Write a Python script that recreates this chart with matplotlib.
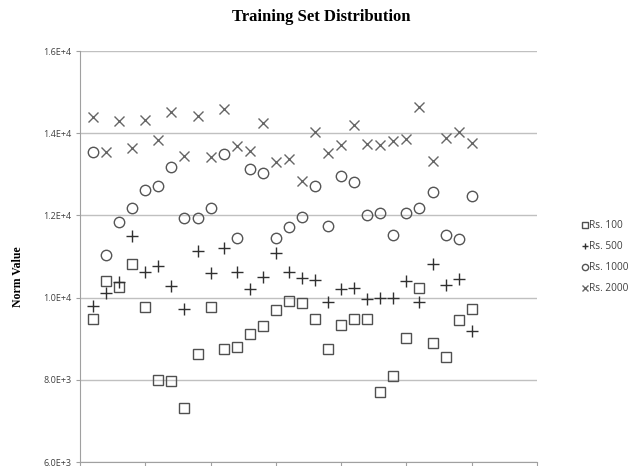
import matplotlib
matplotlib.use("Agg")
import matplotlib.pyplot as plt
from matplotlib.ticker import FuncFormatter, MultipleLocator

x = list(range(1, 31))
rs100 = [9484, 10412, 10252, 10816, 9782, 8007, 7959, 7313, 8625, 9782,
         8749, 8788, 9103, 9297, 9694, 9927, 9879, 9484, 8749, 9333,
         9484, 9484, 7703, 8091, 9006, 10228, 8885, 8560, 9460, 9718]
rs500 = [9800, 10107, 10373, 11503, 10630, 10768, 10284, 9718, 11132, 10590,
         11212, 10615, 10203, 10509, 11076, 10630, 10485, 10429, 9903, 10203,
         10242, 9968, 9985, 10000, 10405, 9903, 10806, 10307, 10445, 9193]
rs1000 = [13540, 11035, 11847, 12170, 12623, 12727, 13185, 11927, 11937, 12180,
          13491, 11440, 13137, 13040, 11440, 11709, 11964, 12715, 11745, 12970,
          12810, 12000, 12050, 11520, 12068, 12185, 12570, 11520, 11416, 12480]
rs2000 = [14405, 13540, 14290, 13650, 14325, 13823, 14524, 13455, 14430, 13430,
          14580, 13680, 13565, 14240, 13307, 13370, 12837, 14040, 13515, 13719,
          14203, 13743, 13719, 13800, 13852, 14645, 13320, 13895, 14025, 13767]
labels = ["Rs. 100", "Rs. 500", "Rs. 1000", "Rs. 2000"]

W, H = 643, 466
fig = plt.figure(figsize=(W / 100, H / 100), dpi=100)
ax = fig.add_axes([80 / W, 4 / H, (537 - 80) / W, (462 - 51) / H])

ax.plot(x, rs100, ls="none", marker="s", ms=7.5, mfc="none", mec="#505050", mew=1.0, label=labels[0])
ax.plot(x, rs500, ls="none", marker="+", ms=8, mec="#303030", mew=1.0, label=labels[1])
ax.plot(x, rs1000, ls="none", marker="o", ms=7.5, mfc="none", mec="#555555", mew=1.0, label=labels[2])
ax.plot(x, rs2000, ls="none", marker="x", ms=7.5, mec="#666666", mew=1.0, label=labels[3])

ax.set_xlim(0, 35)
ax.set_ylim(6000, 16000)
ax.xaxis.set_major_locator(MultipleLocator(5))
ax.yaxis.set_major_locator(MultipleLocator(2000))

def fmt(v, pos):
    e = 3 if v < 10000 else 4
    return f"{v / 10**e:.1f}E+{e}"

ax.yaxis.set_major_formatter(FuncFormatter(fmt))
ax.grid(axis="y", color="#c0c0c0", lw=1.0)
ax.set_axisbelow(True)
for s in ["top", "right"]:
    ax.spines[s].set_visible(False)
for s in ["left", "bottom"]:
    ax.spines[s].set_color("#a0a0a0")
ax.tick_params(axis="x", length=4, color="#a0a0a0", labelbottom=False)
ax.tick_params(axis="y", length=3, color="#a0a0a0", labelsize=6.5, labelcolor="#404040", pad=3)
for t in ax.get_yticklabels():
    t.set_family("Open Sans")

fig.text(321 / W, 1 - 17 / H, "Training Set Distribution", ha="center", va="center",
         fontsize=12, fontweight="bold", family="Liberation Serif")
fig.text(18 / W, 1 - 277 / H, "Norm Value", ha="center", va="center", rotation=90,
         fontsize=8.5, fontweight="bold", family="Liberation Serif")

leg = ax.legend(loc="upper left", bbox_to_anchor=(578 / W, 1 - 216 / H), bbox_transform=fig.transFigure,
                frameon=False, handlelength=0.5, handletextpad=0.15,
                labelspacing=1.0, markerscale=0.6, borderaxespad=0,
                prop={"family": "Open Sans", "size": 7.3})
for t in leg.get_texts():
    t.set_color("#404040")

fig.savefig("out.png", dpi=100)
